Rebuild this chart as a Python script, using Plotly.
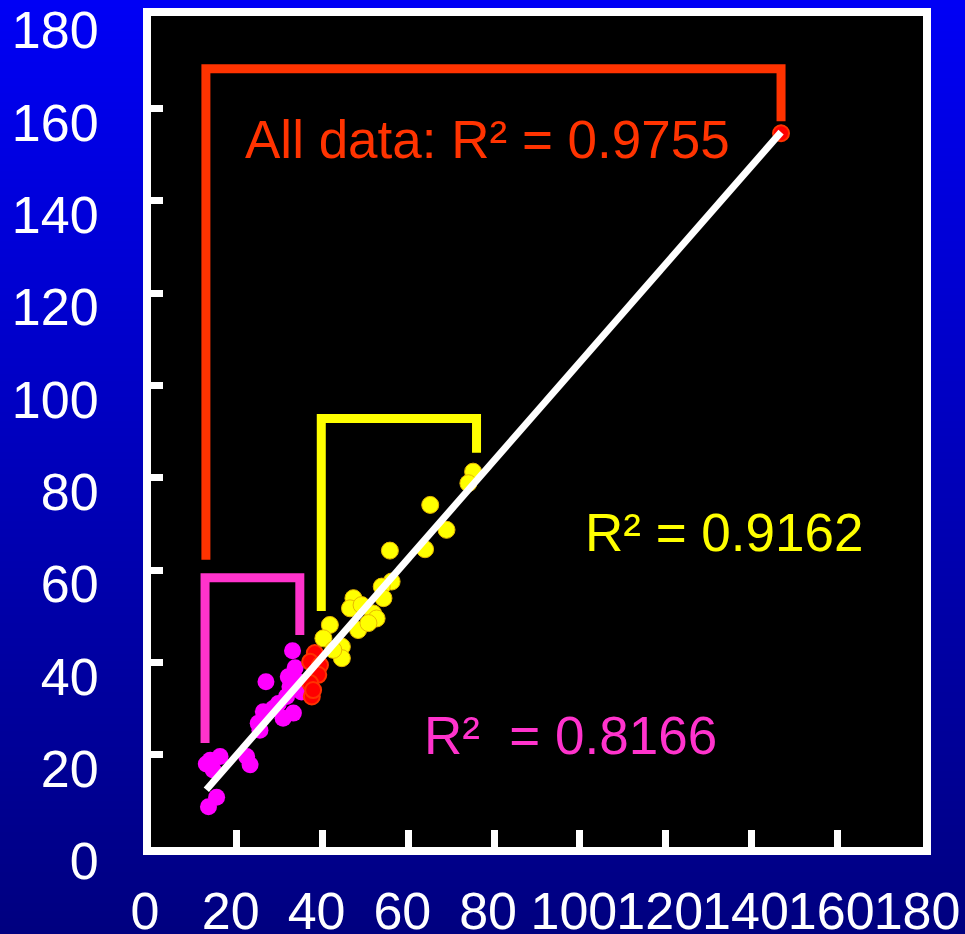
import plotly.graph_objects as go

# ---- data -------------------------------------------------------------
pink_x = [33.0, 33.6, 32.0, 26.8, 32.4, 35.1, 31.6, 29.7, 26.2, 33.2, 30.8,
          25.0, 25.4, 13.8, 16.1, 14.5, 22.3, 23.1, 15.3, 13.4, 28.5, 34.0, 12.9]
pink_y = [42.5, 38.8, 36.9, 35.8, 34.7, 33.6, 32.6, 31.1, 29.3, 29.0, 27.9,
          26.8, 25.3, 18.8, 19.6, 16.7, 19.6, 17.8, 10.8, 8.7, 30.0, 36.0, 18.0]

red_x = [38.2, 37.1, 39.4, 39.0, 37.1, 37.5, 37.8, 146.9]
red_y = [42.0, 40.1, 39.4, 37.3, 35.5, 32.6, 34.0, 154.6]

yellow_x = [75.1, 74.0, 65.1, 68.9, 63.9, 55.7, 56.1, 53.8, 54.2, 47.2, 46.4,
            49.1, 51.8, 52.6, 48.3, 50.7, 41.7, 40.2, 44.5, 44.5, 42.5]
yellow_y = [81.3, 78.8, 74.1, 68.7, 64.5, 64.2, 57.5, 56.4, 53.9, 53.9, 51.7,
            52.4, 50.6, 49.5, 47.0, 48.5, 48.1, 45.2, 43.4, 40.9, 42.7]

# linear fit over all data
fit_slope = 1.063
fit_intercept = -1.3

tick_vals = [0, 20, 40, 60, 80, 100, 120, 140, 160, 180]

r2_all = "All data: R² = 0.9755"
r2_yellow = "R² = 0.9162"
r2_pink = "R²  = 0.8166"

# ---- colours ------------------------------------------------------------
RED = "#FF3300"
PINK = "#FF33CC"
YELLOW = "#FFFF00"
FONT = "Liberation Sans, Arial, sans-serif"

W, H = 965, 934
ML, MR, MT, MB = 151, 42, 16, 87
PW, PH = W - ML - MR, H - MT - MB

fig = go.Figure()

fig.add_trace(go.Scatter(x=pink_x, y=pink_y, mode="markers",
                         marker=dict(size=17, color="#FF00FF", line=dict(width=0))))
fig.add_trace(go.Scatter(x=red_x, y=red_y, mode="markers",
                         marker=dict(size=16, color="#FF0000", line=dict(width=2, color=RED))))
fig.add_trace(go.Scatter(x=yellow_x, y=yellow_y, mode="markers",
                         marker=dict(size=17, color=YELLOW, line=dict(width=1, color="#E8B800"))))

all_x = pink_x + red_x + yellow_x
x0, x1 = min(all_x), max(all_x)
fig.add_trace(go.Scatter(x=[x0, x1],
                         y=[fit_slope * x0 + fit_intercept, fit_slope * x1 + fit_intercept],
                         mode="lines", line=dict(color="white", width=7)))

# vertical blue gradient behind the whole figure
shapes = []
n = 120
fx0, fx1 = -ML / PW - 0.01, 1 + MR / PW + 0.01
fy0, fy1 = -MB / PH, 1 + MT / PH
for i in range(n):
    t = i / (n - 1)
    b = int(round(128 + (245 - 128) * t))
    ya = fy0 + (fy1 - fy0) * i / n
    yb = fy0 + (fy1 - fy0) * (i + 1) / n + 0.002
    shapes.append(dict(type="rect", xref="paper", yref="paper", layer="below",
                       x0=fx0, x1=fx1, y0=ya, y1=yb,
                       fillcolor=f"rgb(0,0,{b})", line=dict(width=0)))
# black plotting area on top of the gradient
shapes.append(dict(type="rect", xref="paper", yref="paper", layer="below",
                   x0=0, x1=1, y0=0, y1=1, fillcolor="black", line=dict(width=0)))

# group brackets
def bracket(xl, yl, xr, yr, ytop, color):
    return dict(type="path", xref="x", yref="y", layer="above",
                path=f"M {xl},{yl} L {xl},{ytop} L {xr},{ytop} L {xr},{yr}",
                line=dict(color=color, width=9))

shapes.append(bracket(12.8, 62.2, 146.9, 157.2, 168.6, RED))
shapes.append(bracket(12.6, 22.5, 34.7, 45.9, 58.3, PINK))
shapes.append(bracket(39.7, 51.1, 75.9, 85.4, 92.8, YELLOW))

annotations = [
    dict(x=78.5, y=153.2, text=r2_all, font=dict(color=RED, size=53, family=FONT)),
    dict(x=133.6, y=68.1, text=r2_yellow, font=dict(color=YELLOW, size=53, family=FONT)),
    dict(x=97.7, y=24.1, text=r2_pink, font=dict(color=PINK, size=53, family=FONT)),
]
for a in annotations:
    a.update(xref="x", yref="y", showarrow=False, xanchor="center", yanchor="middle")

axis_common = dict(range=[0, 180], tickvals=tick_vals, showgrid=False, zeroline=False,
                   showline=True, linecolor="white", linewidth=8, mirror=True,
                   ticks="inside", tickcolor="white", tickwidth=7, automargin=False,
                   tickfont=dict(color="white", size=52, family=FONT))

fig.update_layout(
    width=W, height=H,
    margin=dict(l=ML, r=MR, t=MT, b=MB),
    paper_bgcolor="#000080", plot_bgcolor="rgba(0,0,0,0)",
    showlegend=False,
    shapes=shapes, annotations=annotations,
    xaxis=dict(**axis_common, ticklen=17, tickangle=0,
               ticklabelstandoff=12, ticklabelshift=-6),
    yaxis=dict(**axis_common, ticklen=12, ticklabelstandoff=34, ticklabelshift=14),
)

fig.write_html("out.html")
